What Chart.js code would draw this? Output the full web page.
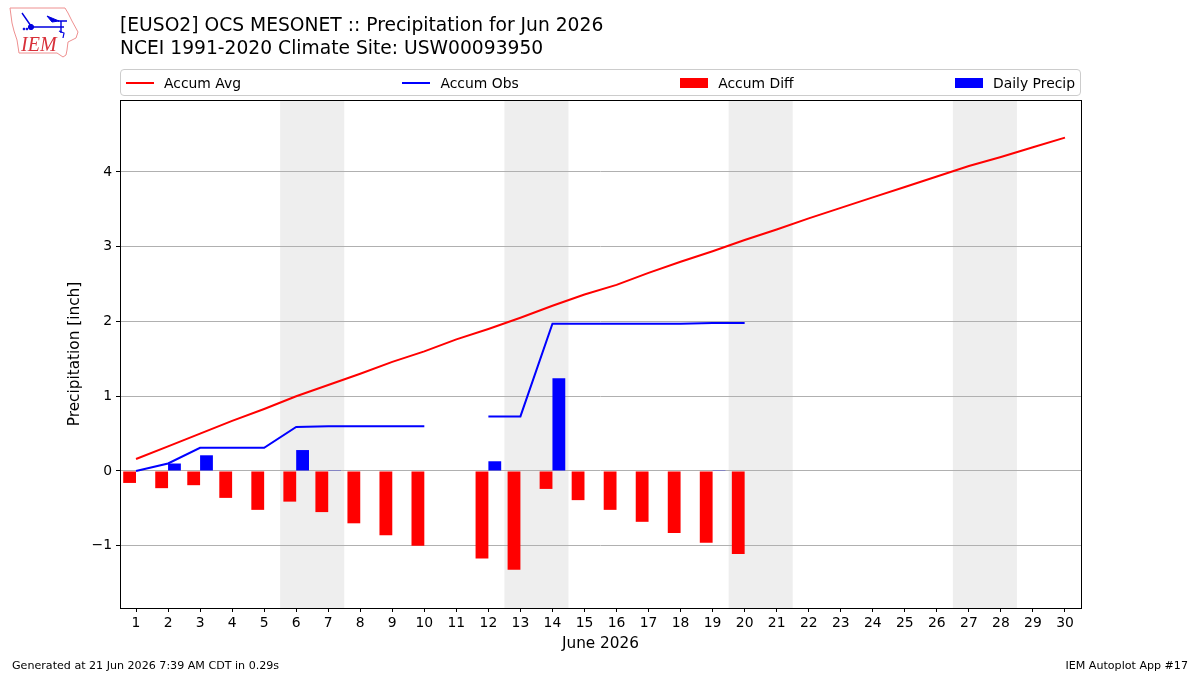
<!DOCTYPE html>
<html>
<head>
<meta charset="utf-8">
<title>Precipitation for Jun 2026</title>
<script src="https://cdn.jsdelivr.net/npm/chart.js@4"></script>
<style>
    html, body { margin: 0; padding: 0; background: #fff; }
    body { width: 1200px; height: 675px; position: relative; overflow: hidden; font-family: "DejaVu Sans", sans-serif; color: #000; }
    #plot { position: absolute; left: 0; top: 0; }
    #logo { position: absolute; left: 0; top: 0; }
    #heading { position: absolute; left: 120px; top: 13px; font-size: 18.7px; line-height: 23px; white-space: nowrap; }
    #legend { position: absolute; left: 120px; top: 69px; width: 949px; height: 25px; padding: 0 5px; border: 1px solid #ccc; border-radius: 4px; display: flex; justify-content: space-between; align-items: center; font-size: 13.9px; }
    .item { display: flex; align-items: center; white-space: nowrap; }
    .swatch { width: 28px; margin-right: 10px; }
    .foot { position: absolute; top: 659px; font-size: 11.1px; white-space: nowrap; }
</style>
</head>
<body>
<canvas id="plot" width="1200" height="675"></canvas>

<svg id="logo" width="90" height="64" viewBox="0 0 90 64">
    <path d="M10 8 L65 8 L68 13 L72 21 L78 32 L76 38 L68 42 L67 50 L66 55 L63 57 L57 53 L19 53 L17 40 L14 31 L12 23 Z" fill="#fff" stroke="#ee9090" stroke-width="1"/>
    <g stroke="#0000e0" fill="#0000e0">
        <path d="M31 27 L64 27 M58 21 L67 21 M61 21 L61 33 M22 13 L31 26" fill="none" stroke-width="1.4"/>
        <circle cx="31" cy="27" r="2.6"/>
        <path d="M47 16 L59 21 L52 22 Z"/>
        <path d="M59 31 L64 33 L63 38" fill="none" stroke-width="1.2"/>
        <circle cx="24" cy="29" r="0.9"/>
        <circle cx="27" cy="29" r="0.9"/>
    </g>
    <text x="21" y="51" font-family="Liberation Serif" font-style="italic" font-size="20" fill="#d8303a">IEM</text>
</svg>

<div id="heading">[EUSO2] OCS MESONET :: Precipitation for Jun 2026<br>NCEI 1991-2020 Climate Site: USW00093950</div>
<div id="legend"></div>
<div class="foot" style="left:12px">Generated at 21 Jun 2026 7:39 AM CDT in 0.29s</div>
<div class="foot" style="right:12px">IEM Autoplot App #17</div>

<script>
    const days = ['1', '2', '3', '4', '5', '6', '7', '8', '9', '10', '11', '12', '13', '14', '15',
        '16', '17', '18', '19', '20', '21', '22', '23', '24', '25', '26', '27', '28', '29', '30'];

    const accumAvg = [0.16, 0.33, 0.50, 0.67, 0.83, 1.00, 1.15, 1.30, 1.46, 1.60, 1.76, 1.90, 2.05, 2.21, 2.36,
        2.49, 2.65, 2.80, 2.94, 3.09, 3.23, 3.38, 3.52, 3.66, 3.80, 3.94, 4.08, 4.20, 4.33, 4.46];

    const accumObs = [0.00, 0.10, 0.31, 0.31, 0.31, 0.59, 0.60, 0.60, 0.60, 0.60, null, 0.73, 0.73, 1.97, 1.97,
        1.97, 1.97, 1.97, 1.98, 1.98];

    const accumDiff = [-0.16, -0.23, -0.19, -0.36, -0.52, -0.41, -0.55, -0.70, -0.86, -1.00, null, -1.17, -1.32, -0.24, -0.39,
        -0.52, -0.68, -0.83, -0.96, -1.11];

    const dailyPrecip = [0.00, 0.10, 0.21, 0.00, 0.00, 0.28, 0.01, 0.00, 0.00, 0.00, null, 0.13, 0.00, 1.24, 0.00,
        0.00, 0.00, 0.00, 0.01, 0.00];

    // first and last day of each weekend
    const weekends = [['6', '7'], ['13', '14'], ['20', '21'], ['27', '28']];

    const yTicks = [-1, 0, 1, 2, 3, 4];

    // grey weekend bands, painted before the scales so the grid sits on top
    const weekendBands = {
        id: 'weekendBands',
        beforeDraw(chart) {
            const { ctx, chartArea, scales } = chart;
            const half = (scales.x.getPixelForValue(1) - scales.x.getPixelForValue(0)) / 2;
            ctx.save();
            ctx.fillStyle = '#eeeeee';
            weekends.forEach(([from, to]) => {
                const x0 = scales.x.getPixelForValue(days.indexOf(from)) - half;
                const x1 = scales.x.getPixelForValue(days.indexOf(to)) + half;
                ctx.fillRect(x0, chartArea.top, x1 - x0, chartArea.height);
            });
            ctx.restore();
        }
    };

    // black box round the plot area
    const plotFrame = {
        id: 'plotFrame',
        afterDatasetsDraw(chart) {
            const { ctx, chartArea } = chart;
            ctx.save();
            ctx.strokeStyle = '#000';
            ctx.lineWidth = 1;
            ctx.strokeRect(chartArea.left + 0.5, chartArea.top + 0.5, chartArea.width, chartArea.height);
            ctx.restore();
        }
    };

    const chart = new Chart(document.getElementById('plot').getContext('2d'), {
        type: 'bar',
        data: {
            labels: days,
            datasets: [
                { type: 'line', label: 'Accum Avg', data: accumAvg, borderColor: '#ff0000', backgroundColor: '#ff0000', borderWidth: 2, pointRadius: 0, tension: 0, order: 1 },
                { type: 'line', label: 'Accum Obs', data: accumObs, borderColor: '#0000ff', backgroundColor: '#0000ff', borderWidth: 2, pointRadius: 0, tension: 0, spanGaps: false, order: 1 },
                { label: 'Accum Diff', data: accumDiff, backgroundColor: '#ff0000', borderWidth: 0, categoryPercentage: 0.8, barPercentage: 1, order: 2 },
                { label: 'Daily Precip', data: dailyPrecip, backgroundColor: '#0000ff', borderWidth: 0, categoryPercentage: 0.8, barPercentage: 1, order: 2 }
            ]
        },
        options: {
            responsive: false,
            animation: false,
            layout: { padding: { left: 66, right: 119, top: 100, bottom: 22 } },
            plugins: {
                legend: { display: false },
                tooltip: { enabled: false }
            },
            font: { family: '"DejaVu Sans"' },
            scales: {
                x: {
                    offset: true,
                    afterFit: (scale) => { scale.height = 45; },
                    grid: { offset: false, drawOnChartArea: false, drawTicks: true, tickColor: '#000', tickLength: 4 },
                    border: { display: false },
                    ticks: { color: '#000', font: { family: 'DejaVu Sans', size: 13.9 }, maxRotation: 0, autoSkip: false, padding: 3 },
                    title: { display: true, text: 'June 2026', color: '#000', font: { family: 'DejaVu Sans', size: 15.3 }, padding: 0 }
                },
                y: {
                    min: -1.833,
                    max: 4.963,
                    afterFit: (scale) => { scale.width = 54; },
                    afterBuildTicks: (scale) => { scale.ticks = yTicks.map((value) => ({ value })); },
                    grid: { color: '#b0b0b0', lineWidth: 1, tickColor: '#000', tickLength: 4 },
                    border: { display: false },
                    ticks: {
                        color: '#000',
                        font: { family: 'DejaVu Sans', size: 13.9 },
                        padding: 4,
                        callback: (value) => String(value).replace('-', '\u2212')
                    },
                    title: { display: true, text: 'Precipitation [inch]', color: '#000', font: { family: 'DejaVu Sans', size: 15.3 }, padding: 0 }
                }
            }
        },
        plugins: [weekendBands, plotFrame]
    });

    // legend row built from the datasets
    const legendBox = document.getElementById('legend');
    chart.data.datasets.forEach((ds) => {
        const item = document.createElement('div');
        item.className = 'item';
        const swatch = document.createElement('div');
        swatch.className = 'swatch';
        swatch.style.height = ds.type === 'line' ? '2px' : '10px';
        swatch.style.background = ds.backgroundColor;
        const name = document.createElement('span');
        name.textContent = ds.label;
        item.append(swatch, name);
        legendBox.append(item);
    });
</script>
</body>
</html>
